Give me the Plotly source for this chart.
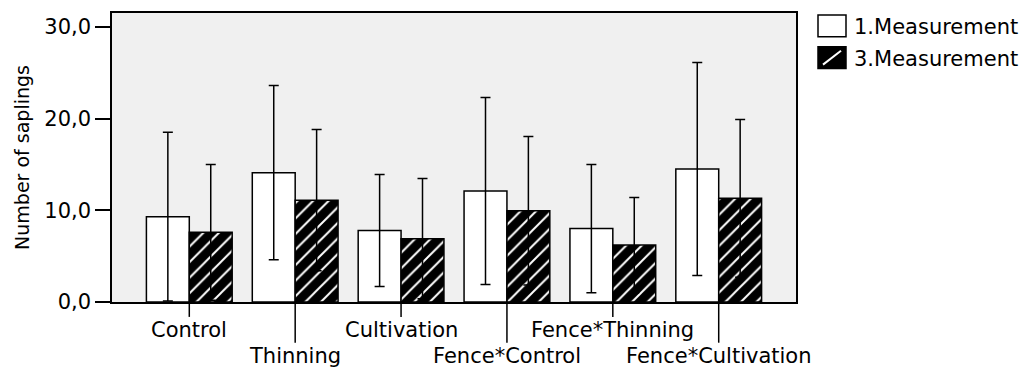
import plotly.graph_objects as go

categories = ["Control", "Thinning", "Cultivation", "Fence*Control", "Fence*Thinning", "Fence*Cultivation"]
series_names = ["1.Measurement", "3.Measurement"]
meas1 = [9.3, 14.1, 7.8, 12.1, 8.0, 14.5]
meas1_err = [9.2, 9.5, 6.1, 10.2, 7.0, 11.6]
meas3 = [7.6, 11.1, 6.9, 9.95, 6.2, 11.3]
meas3_err = [7.4, 7.7, 6.55, 8.1, 5.2, 8.6]
y_ticks = [0, 10, 20, 30]

FONT = "DejaVu Sans"
L, R, T, B = 112, 796, 11, 302
W, H = 1031, 367
PW, PH = R - L, B - T

def px(xp):
    return (xp - L) / PW

def py(yp):
    return (B - yp) / PH

fig = go.Figure()
fig.add_trace(go.Bar(
    x=categories, y=meas1, name=series_names[0],
    marker=dict(color="white", line=dict(color="black", width=1.5)),
    error_y=dict(type="data", array=meas1_err, symmetric=True, color="black", thickness=1.5, width=5),
    showlegend=False,
))
fig.add_trace(go.Bar(
    x=categories, y=meas3, name=series_names[1],
    marker=dict(color="black", line=dict(color="black", width=1.5),
                pattern=dict(shape="/", fgcolor="white", bgcolor="black", size=11, solidity=0.18, fillmode="replace")),
    error_y=dict(type="data", array=meas3_err, symmetric=True, color="black", thickness=1.5, width=5),
    showlegend=False,
))

shapes = []
annotations = []
short_len, long_len = 15, 41
for i, cat in enumerate(categories):
    ln = short_len if i % 2 == 0 else long_len
    shapes.append(dict(type="line", xref="x", yref="paper", x0=i, x1=i, y0=0, y1=-ln / PH,
                       line=dict(color="black", width=1.5)))
    ty = 330 if i % 2 == 0 else 356
    annotations.append(dict(xref="x", yref="paper", x=i, y=py(ty), text=cat, showarrow=False,
                            xanchor="center", yanchor="middle", font=dict(family=FONT, size=21, color="black")))

# manual legend
leg_rows = [(13, 35), (45, 67)]
for k, (y0, y1) in enumerate(leg_rows):
    shapes.append(dict(type="rect", xref="paper", yref="paper", x0=px(818), x1=px(846), y0=py(y1), y1=py(y0),
                       fillcolor="white" if k == 0 else "black", line=dict(color="black", width=1.5)))
    if k == 1:
        shapes.append(dict(type="line", xref="paper", yref="paper", x0=px(823), x1=px(841), y0=py(y1 - 4), y1=py(y0 + 4),
                           line=dict(color="white", width=2)))
    annotations.append(dict(xref="paper", yref="paper", x=px(852), y=py((y0 + y1) / 2 + 1), text=series_names[k],
                            showarrow=False, xanchor="left", yanchor="middle",
                            font=dict(family=FONT, size=21, color="black")))

fig.update_layout(
    width=W, height=H,
    margin=dict(l=L, r=W - R, t=T, b=H - B),
    paper_bgcolor="white", plot_bgcolor="#F0F0F0",
    barmode="group", bargap=0.19, bargroupgap=0,
    separators=",.",
    font=dict(family=FONT, size=21, color="black"),
    shapes=shapes, annotations=annotations,
)
fig.update_xaxes(showticklabels=False, ticks="", showline=True, mirror=True, linecolor="black", linewidth=1.5,
                 range=[-0.73, 5.73], showgrid=False, zeroline=False)
fig.update_yaxes(range=[0, 31.5], tickvals=y_ticks, tickformat=".1f", ticks="outside", ticklen=15, tickwidth=1.5,
                 tickcolor="black", showline=True, mirror=True, linecolor="black", linewidth=1.5,
                 showgrid=False, zeroline=False, tickfont=dict(family=FONT, size=21),
                 title=dict(text="Number of saplings", font=dict(family=FONT, size=19), standoff=10))

fig.write_html("out.html")
